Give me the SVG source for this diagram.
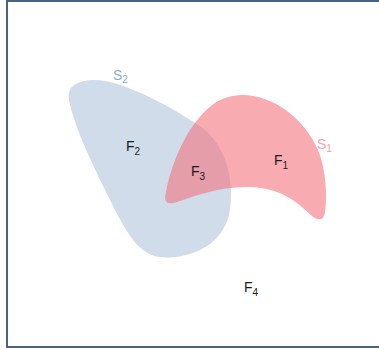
<svg xmlns="http://www.w3.org/2000/svg" width="379" height="349" viewBox="0 0 379 349">
<style>
.lbl{font-family:"Liberation Sans","DejaVu Sans",sans-serif;font-size:14px;fill:#1a1a1a}
.sub{font-size:10px}
.s2l{fill:#8fa9cc}
.s1l{fill:#f2a4ab}
</style>
<rect x="0" y="0" width="379" height="349" fill="#ffffff"/>
<rect id="frame" x="7" y="1" width="380" height="346" fill="none" stroke="#4a6283" stroke-width="2"/>
<g id="S2">
<path d="M 69,100 C 66,85 80,79 98,80 C 125,82 175,108 205,130 C 228,150 235,185 229,215 C 222,245 190,260 160,257 C 140,255 128,235 115,210 C 95,170 75,130 69,100 Z" fill="#d0dcea"/>
<text class="lbl s2l" x="113" y="80">S<tspan class="sub" dy="3">2</tspan></text>
</g>
<g id="S1">
<path d="M 242,95 C 275,95 305,120 318,150 C 327,172 327,200 325,212 C 324,221 318,221 312,216 C 295,200 280,188 250,187 C 220,186 195,196 177,202 C 165,206 164,200 166,192 C 172,160 190,118 218,101 C 226,97 234,95 242,95 Z" fill="#f4737d" fill-opacity="0.6"/>
<text class="lbl s1l" x="317" y="149">S<tspan class="sub" dy="3">1</tspan></text>
</g>
<g id="F1"><text class="lbl" x="274" y="165">F<tspan class="sub" dy="4">1</tspan></text></g>
<g id="F2"><text class="lbl" x="126" y="151">F<tspan class="sub" dy="4">2</tspan></text></g>
<g id="F3"><text class="lbl" x="191" y="176">F<tspan class="sub" dy="4">3</tspan></text></g>
<g id="F4"><text class="lbl" x="244" y="292">F<tspan class="sub" dy="4">4</tspan></text></g>
</svg>
